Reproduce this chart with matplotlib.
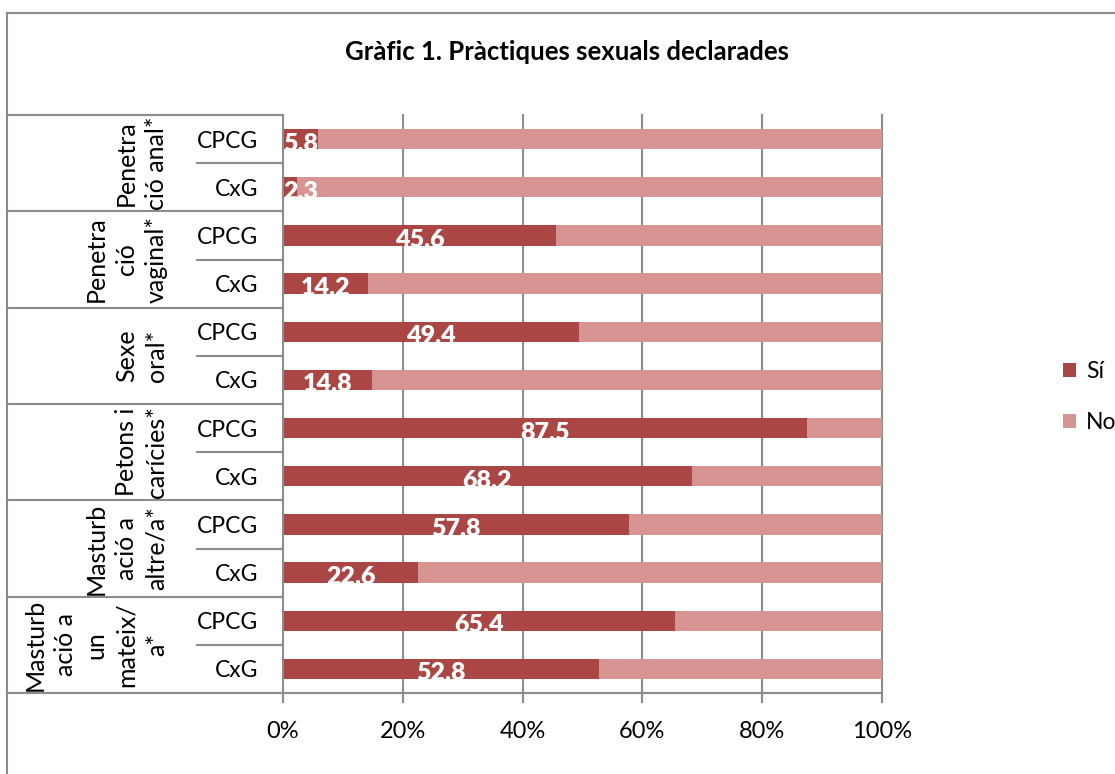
import numpy as np
import matplotlib.pyplot as plt
from matplotlib.patches import Rectangle

plt.rcParams['font.family'] = ['Lato', 'DejaVu Sans']

# dades (percentatge de "Sí"), de dalt a baix
practiques = ['Penetra\nció anal*', 'Penetra\nció\nvaginal*', 'Sexe\noral*',
              'Petons i\ncarícies*', 'Masturb\nació a\naltre/a*',
              'Masturb\nació a\nun\nmateix/\na*']
grups = ['CPCG', 'CxG']
si_cpcg = [5.8, 45.6, 49.4, 87.5, 57.8, 65.4]
si_cxg = [2.3, 14.2, 14.8, 68.2, 22.6, 52.8]

c_si = '#AA4643'
c_no = '#D69492'
c_line = '#8C8C8C'

W, H = 1115, 774
fig = plt.figure(figsize=(W / 100, H / 100), dpi=100)

# marc exterior
fig.add_artist(plt.Line2D([7 / W, 1], [1 - 13 / H, 1 - 13 / H], color=c_line, lw=1.5))
fig.add_artist(plt.Line2D([7 / W, 7 / W], [0, 1 - 13 / H], color=c_line, lw=1.5))

fig.text(567 / W, 1 - 52 / H, 'Gràfic 1. Pràctiques sexuals declarades',
         ha='center', va='center', fontsize=18.5, fontweight='bold')

ax = fig.add_axes([283 / W, 1 - 693 / H, 599 / W, 578 / H])

si = []
labels = []
for a, b in zip(si_cpcg, si_cxg):
    si += [a, b]
    labels += grups
si = np.array(si)
n = len(si)
y = np.arange(n)[::-1]
bh = 0.42

ax.barh(y, si, height=bh, color=c_si, label='Sí', zorder=3)
ax.barh(y, 100 - si, left=si, height=bh, color=c_no, label='No', zorder=3)

for yi, v in zip(y, si):
    t = ax.text(max(v / 2, 3.0), yi + bh / 2 - 0.06, ('%.1f' % v).replace('.', ','),
                ha='center', va='top', color='white', fontsize=18,
                fontweight='heavy', zorder=4)
    r = Rectangle((0, yi - bh / 2), 100, bh, transform=ax.transData)
    t.set_clip_path(r)

ax.set_xlim(0, 100)
ax.set_ylim(-0.5, n - 0.5)
ax.set_xticks(np.arange(0, 101, 20))
ax.set_xticklabels(['%d%%' % v for v in range(0, 101, 20)], fontsize=17)
ax.tick_params(axis='x', length=0, pad=20)
ax.set_yticks(y)
ax.set_yticklabels(labels, fontsize=16.5)
ax.tick_params(axis='y', length=0, pad=18)
for s in ax.spines.values():
    s.set_visible(False)

# graella vertical
xt = ax.get_xaxis_transform()
for x in range(0, 101, 20):
    ax.plot([x, x], [-9 / 578, 1], color=c_line, lw=1.5, transform=xt,
            clip_on=False, zorder=2 if x else 5)
# eix inferior i taula de categories
ax.plot([(7 - 283) / 599, 1], [0, 0], color=c_line, lw=1.5,
        transform=ax.transAxes, clip_on=False, zorder=5)
yt = ax.get_yaxis_transform()
x_left = (7 - 283) / 599
x_mid = (197 - 283) / 599
for k in range(len(practiques) + 1):
    yb = n - 0.5 - 2 * k
    ax.plot([x_left, 0], [yb, yb], color=c_line, lw=1.5, transform=yt, clip_on=False)
for k in range(len(practiques)):
    yb = n - 1.5 - 2 * k
    ax.plot([x_mid, 0], [yb, yb], color=c_line, lw=1.5, transform=yt, clip_on=False)
    ax.text((168 - 283) / 599, n - 1.5 - 2 * k, practiques[k], transform=yt,
            rotation=90, ha='right', va='center', multialignment='center',
            fontsize=18, linespacing=1.38)

fig.legend(loc='center left', bbox_to_anchor=(1063 / W, 1 - 397 / H),
           frameon=False, fontsize=16.5, handlelength=0.55, handleheight=0.55,
           handletextpad=0.45, labelspacing=1.3, borderpad=0, borderaxespad=0)

fig.savefig('out.png', dpi=100)
